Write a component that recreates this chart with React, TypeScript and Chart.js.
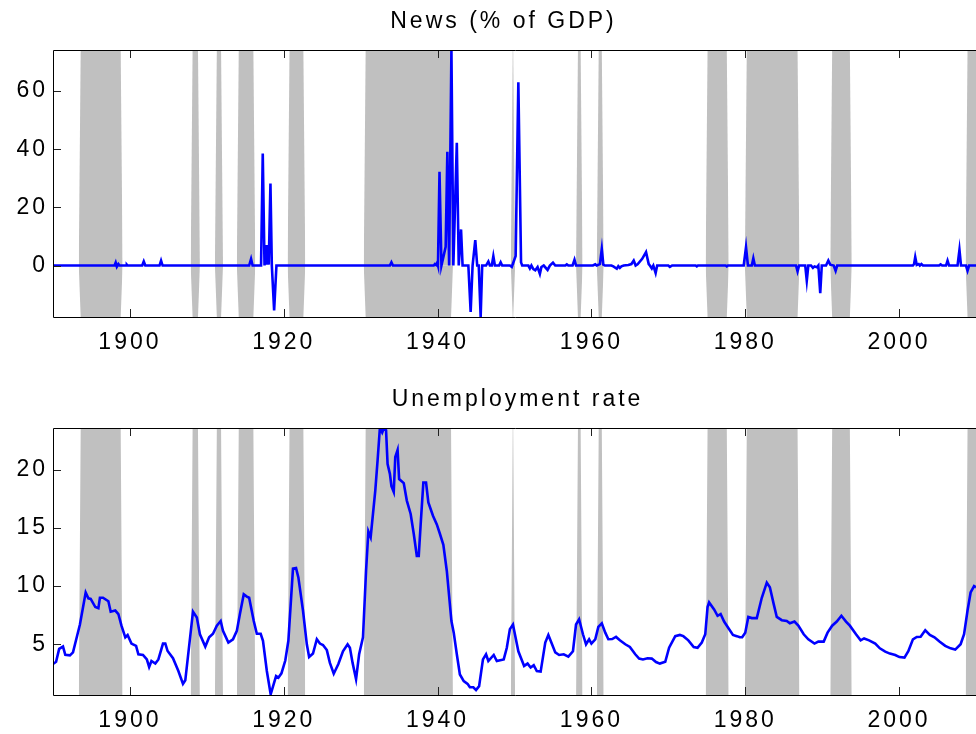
import React, { useEffect, useRef } from 'react';
import { Chart, registerables } from 'chart.js';
Chart.register(...registerables);

// ---------------- data ----------------
const xTickValues = [1900, 1920, 1940, 1960, 1980, 2000];
const newsTickValues = [0, 20, 40, 60];
const unempTickValues = [5, 10, 15, 20];

const X_MIN = 1890;
const X_MAX = 2010;
const NEWS_MIN = -17.7;
const NEWS_MAX = 74.1;
const UNEMP_MIN = 0.64;
const UNEMP_MAX = 23.59;

// recession periods (years, indicator = 1 between start and end)
const recStart = [1893.6, 1908.15, 1911.3, 1914.15, 1920.75, 1930.65, 1949.77, 1958.25, 1960.95, 1975.1, 1980.2, 1991.3, 2008.9];
const recEnd = [1898.8, 1908.85, 1911.85, 1916.05, 1922.55, 1941.75, 1949.83, 1958.6, 1961.35, 1977.6, 1986.8, 1993.6, 2010.5];
const RAMP = 0.25; // one quarter transition

const newsYears = [
  1890, 1898.0, 1898.15, 1898.3, 1898.5, 1898.65, 1899.5, 1899.6, 1899.7, 1901.6, 1901.8, 1902.0,
  1903.85, 1904.05, 1904.25, 1915.5, 1915.75, 1915.95, 1917.05, 1917.27, 1917.5, 1917.65, 1917.8,
  1917.95, 1918.05, 1918.27, 1918.45, 1918.75, 1919.05, 1933.8, 1934.0, 1934.2, 1939.5, 1939.65,
  1939.8, 1939.95, 1940.05, 1940.25, 1940.5, 1940.8, 1941.05, 1941.27, 1941.5, 1941.8, 1942.05,
  1942.5, 1942.75, 1943.05, 1943.25, 1944.0, 1944.3, 1944.55, 1944.9, 1945.15, 1945.35, 1945.6,
  1945.8, 1946.3, 1946.6, 1946.8, 1947.05, 1947.25, 1947.45, 1948.0, 1948.2, 1948.4, 1949.4,
  1949.65, 1950.15, 1950.5, 1950.85, 1951.0, 1951.8, 1952.0, 1952.2, 1952.45, 1952.7, 1953.0,
  1953.3, 1953.5, 1953.8, 1954.3, 1954.6, 1955.0, 1955.3, 1956.6, 1956.8, 1957.0, 1957.55, 1957.8,
  1958.0, 1960.2, 1960.5, 1960.7, 1961.1, 1961.35, 1961.55, 1961.75, 1962.6, 1962.85, 1963.3,
  1963.5, 1963.7, 1963.9, 1964.2, 1964.8, 1965.2, 1965.5, 1965.75, 1966.0, 1966.6, 1967.1, 1967.45,
  1967.6, 1967.85, 1968.05, 1968.35, 1968.55, 1970.0, 1970.2, 1970.5, 1973.55, 1973.7, 1973.85,
  1977.45, 1977.6, 1977.75, 1979.8, 1980.1, 1980.35, 1980.85, 1981.05, 1981.25, 1986.6, 1986.8,
  1987.0, 1987.8, 1988.0, 1988.2, 1988.55, 1988.8, 1989.0, 1989.3, 1989.5, 1989.75, 1989.95,
  1990.5, 1990.8, 1991.05, 1991.5, 1991.75, 1991.95, 2001.8, 2001.95, 2002.1, 2002.3, 2002.55,
  2002.7, 2002.9, 2003.1, 2005.2, 2005.4, 2005.6, 2006.1, 2006.3, 2006.5, 2007.6, 2007.85, 2008.05,
  2008.7, 2008.9, 2009.1, 2010,
];
const newsValues = [
  0, 0, 1.0, -0.4, 0.5, 0, 0, 0.3, 0, 0, 1.4, 0,
  0, 1.7, 0, 0, 2.3, 0, 0, 38.5, 0, 7.0, 0.3,
  7.0, 0.3, 28.2, 0, -15.4, 0, 0, 1.1, 0, 0, 0.5,
  0.2, 1.0, 0, 32.2, 0, 3.5, 6.4, 39.1, 0, 74.1, 0,
  42.2, 0, 12.4, 0, 0, -16.0, 0, 8.7, 0, 0, -17.7,
  0, 0, 1.4, 0, 0, 3.2, 0, 0, 1.1, 0, 0,
  -0.5, 3.3, 63.0, 1.1, 0, 0, -1.0, 0, -1.2, -1.6, -0.5,
  -2.9, -0.5, 0, -1.5, 0, 1.0, 0, 0, 0.4, 0, 0, 2.0,
  0, 0, 0.4, 0, 0.5, 5.7, 0.3, 0, 0, -0.3, -1.1,
  -0.2, -0.8, -0.3, 0, 0.2, 0.5, 1.7, 0, 0.4, 2.3, 4.6, 0.5,
  0, -1.0, 0, -2.6, 0, 0, -0.5, 0, 0, -0.3, 0,
  0, -0.3, 0, 0, 6.3, 0, 0, 2.5, 0, 0, -2.0,
  0, 0, -5.2, 0, 0, -0.8, -0.3, -0.6, 0, -9.5, 0,
  0, 1.7, 0.3, 0, -1.8, 0, 0, 0.5, 2.9, 0.2, 0.5,
  0, 0.5, 0, 0, 0.4, 0, 0, 1.7, 0, 0, 5.4, 0,
  0, -1.8, 0, 0,
];

const unempYears = [
  1890.0, 1890.4, 1890.8, 1891.3, 1891.6, 1892.2, 1892.6, 1893.5, 1894.25, 1894.6, 1894.9, 1895.5,
  1895.9, 1896.1, 1896.5, 1897.2, 1897.5, 1898.1, 1898.5, 1898.9, 1899.4, 1899.7, 1900.2, 1900.8,
  1901.1, 1901.7, 1902.2, 1902.5, 1902.8, 1903.3, 1903.7, 1904.3, 1904.6, 1904.9, 1905.6, 1906.3,
  1906.9, 1907.2, 1908.2, 1908.7, 1909.1, 1909.8, 1910.3, 1910.8, 1911.3, 1911.8, 1912.1, 1912.8,
  1913.4, 1913.9, 1914.3, 1914.8, 1915.2, 1915.5, 1916.1, 1916.5, 1917.0, 1917.3, 1917.8, 1918.3,
  1919.0, 1919.3, 1919.7, 1920.2, 1920.6, 1921.2, 1921.6, 1921.9, 1922.5, 1923.0, 1923.3, 1923.8,
  1924.3, 1924.7, 1925.1, 1925.6, 1926.0, 1926.5, 1927.1, 1927.7, 1928.3, 1928.6, 1928.95, 1929.4,
  1929.8, 1930.3, 1930.7, 1931.0, 1931.3, 1931.9, 1932.2, 1932.5, 1932.8, 1933.0, 1933.3, 1933.5,
  1933.8, 1934.0, 1934.3, 1934.5, 1934.8, 1935.0, 1935.6, 1936.0, 1936.5, 1936.9, 1937.3, 1937.55,
  1937.8, 1938.15, 1938.5, 1938.8, 1939.4, 1939.9, 1940.3, 1940.75, 1941.2, 1941.8, 1942.1, 1942.5,
  1942.9, 1943.4, 1943.9, 1944.2, 1944.65, 1945.0, 1945.4, 1945.9, 1946.3, 1946.6, 1947.3, 1947.7,
  1948.6, 1949.0, 1949.4, 1949.8, 1950.5, 1951.25, 1951.7, 1952.1, 1952.5, 1952.9, 1953.4, 1954.0,
  1954.4, 1954.7, 1955.3, 1955.8, 1956.4, 1957.0, 1957.6, 1958.0, 1958.4, 1958.9, 1959.3, 1959.7,
  1960.0, 1960.5, 1960.9, 1961.35, 1961.8, 1962.2, 1962.7, 1963.2, 1963.7, 1964.4, 1965.0, 1965.7,
  1966.2, 1966.7, 1967.3, 1967.85, 1968.4, 1968.9, 1969.6, 1970.1, 1970.9, 1971.5, 1971.95, 1972.6,
  1973.3, 1973.8, 1974.35, 1974.8, 1975.1, 1975.3, 1975.95, 1976.4, 1976.8, 1977.25, 1977.8, 1978.4,
  1978.9, 1979.3, 1979.6, 1980.0, 1980.4, 1980.85, 1981.5, 1982.15, 1982.8, 1983.2, 1983.7, 1984.1,
  1984.75, 1985.4, 1985.8, 1986.4, 1986.9, 1987.6, 1988.2, 1989.0, 1989.5, 1990.2, 1990.7, 1991.3,
  1991.9, 1992.5, 1993.1, 1993.6, 1994.4, 1995.0, 1995.45, 1996.1, 1996.9, 1997.5, 1998.2, 1998.8,
  1999.5, 2000.05, 2000.7, 2001.2, 2001.8, 2002.3, 2002.8, 2003.4, 2004.0, 2004.6, 2005.25, 2006.0,
  2006.7, 2007.3, 2008.0, 2008.45, 2008.9, 2009.3, 2009.75, 2010.0,
];
const unempValues = [
  3.3, 3.5, 4.6, 4.8, 4.1, 4.05, 4.3, 6.7, 9.45, 8.95, 8.9, 8.2,
  8.1, 9.0, 9.0, 8.7, 7.8, 7.9, 7.6, 6.6, 5.6, 5.8, 5.06, 4.86,
  4.14, 4.08, 3.7, 3.05, 3.56, 3.34, 3.7, 5.06, 5.06, 4.42, 3.8, 2.7,
  1.6, 1.9, 7.8, 7.3, 5.86, 4.8, 5.6, 5.9, 6.6, 7.0, 6.15, 5.15,
  5.43, 6.15, 7.6, 9.3, 9.1, 9.0, 7.0, 5.9, 5.9, 5.3, 2.7, 0.7,
  2.27, 2.13, 2.5, 3.6, 5.3, 11.5, 11.55, 10.75, 7.9, 5.0, 3.9, 4.2,
  5.43, 5.06, 4.94, 4.5, 3.4, 2.47, 3.3, 4.4, 5.0, 4.7, 3.4, 2.0,
  4.14, 5.6, 11.3, 14.7, 14.2, 18.2, 20.8, 23.6, 23.2, 23.55, 23.4, 20.5,
  19.65, 18.6, 18.1, 21.1, 21.7, 19.2, 18.85, 17.35, 16.2, 14.5, 12.6, 12.6,
  15.3, 18.9, 18.9, 17.2, 16.05, 15.3, 14.5, 13.55, 11.3, 7.0, 6.0, 4.14,
  2.4, 1.84, 1.6, 1.3, 1.3, 1.06, 1.4, 3.7, 4.14, 3.56, 4.08, 3.56,
  3.7, 4.7, 6.3, 6.7, 4.4, 3.14, 3.34, 3.0, 3.2, 2.7, 2.65, 5.15,
  5.8, 5.3, 4.3, 4.08, 4.14, 3.94, 4.4, 6.7, 7.15, 5.86, 5.0, 5.43,
  5.06, 5.43, 6.5, 6.8, 6.0, 5.43, 5.45, 5.63, 5.34, 5.0, 4.77, 4.14,
  3.77, 3.7, 3.8, 3.77, 3.47, 3.34, 3.5, 4.7, 5.7, 5.8, 5.7, 5.34,
  4.77, 4.7, 5.15, 5.86, 8.2, 8.6, 8.0, 7.45, 7.6, 6.95, 6.4, 5.8,
  5.7, 5.6, 5.6, 6.0, 7.35, 7.25, 7.25, 9.0, 10.3, 9.9, 8.45, 7.35,
  7.07, 7.0, 6.8, 6.95, 6.6, 5.86, 5.43, 5.06, 5.23, 5.23, 6.0, 6.6,
  6.95, 7.45, 6.95, 6.6, 5.86, 5.34, 5.5, 5.34, 5.06, 4.65, 4.37, 4.2,
  4.08, 3.9, 3.85, 4.4, 5.43, 5.63, 5.65, 6.2, 5.8, 5.6, 5.23, 4.86,
  4.65, 4.54, 5.0, 5.86, 7.9, 9.45, 10.0, 9.9,
];

// ---------------- style ----------------
const FONT = '"Liberation Sans", Arial, Helvetica, sans-serif';
const FONT_SIZE = 23;
const LETTER_SPACING = '3px';
const LINE_COLOR = '#0000FF';
const BAND_COLOR = '#C0C0C0';
const WIDTH = 976;
const PLOT_TOP = 50;
const PLOT_BOTTOM = 317;
const Y_AXIS_WIDTH = 53;
const TICK_LEN = 8;

function bandDatasets(levels: number[]) {
  const out: any[] = [];
  recStart.forEach((s, i) => {
    const e = recEnd[i];
    levels.forEach((lvl) => {
      out.push({
        type: 'line',
        data: [
          { x: s - RAMP, y: 0 },
          { x: s, y: lvl },
          { x: e, y: lvl },
          { x: e + RAMP, y: 0 },
        ],
        borderWidth: 0,
        borderColor: 'rgba(0,0,0,0)',
        backgroundColor: BAND_COLOR,
        pointRadius: 0,
        fill: 'origin',
        tension: 0,
        order: 5,
      });
    });
  });
  return out;
}

function makeConfig(
  title: string,
  titleShift: number,
  xs: number[],
  ys: number[],
  yMin: number,
  yMax: number,
  yTicks: number[],
  levels: number[],
  canvasHeight: number
): any {
  const decor = {
    id: 'decor',
    beforeDraw(chart: any) {
      (chart.ctx as any).letterSpacing = LETTER_SPACING;
    },
    afterDatasetsDraw(chart: any) {
      const { ctx, chartArea: a, scales } = chart;
      ctx.save();
      ctx.strokeStyle = '#222';
      ctx.lineWidth = 1;
      ctx.beginPath();
      scales.x.ticks.forEach((t: any) => {
        const px = Math.round(scales.x.getPixelForValue(t.value)) + 0.5;
        ctx.moveTo(px, a.top);
        ctx.lineTo(px, a.top + TICK_LEN);
        ctx.moveTo(px, a.bottom);
        ctx.lineTo(px, a.bottom - TICK_LEN);
      });
      scales.y.ticks.forEach((t: any) => {
        const py = Math.round(scales.y.getPixelForValue(t.value)) + 0.5;
        ctx.moveTo(a.left, py);
        ctx.lineTo(a.left + TICK_LEN, py);
      });
      ctx.stroke();
      ctx.strokeStyle = '#000';
      ctx.beginPath();
      const l = Math.round(a.left) + 0.5;
      const t = Math.round(a.top) + 0.5;
      const b = Math.round(a.bottom) + 0.5;
      ctx.moveTo(a.right + 2, t);
      ctx.lineTo(l, t);
      ctx.lineTo(l, b);
      ctx.lineTo(a.right + 2, b);
      ctx.stroke();
      ctx.restore();
    },
    afterDraw(chart: any) {
      const { ctx, chartArea: a } = chart;
      ctx.save();
      (ctx as any).letterSpacing = LETTER_SPACING;
      ctx.font = `${FONT_SIZE}px ${FONT}`;
      ctx.fillStyle = '#000';
      ctx.textAlign = 'center';
      ctx.textBaseline = 'middle';
      ctx.fillText(title, (a.left + a.right) / 2 + titleShift, 21.5);
      ctx.restore();
    },
  };

  return {
    type: 'line',
    data: {
      datasets: [
        {
          data: xs.map((x, i) => ({ x, y: ys[i] })),
          borderColor: LINE_COLOR,
          borderWidth: 2.6,
          pointRadius: 0,
          fill: false,
          tension: 0,
          order: 0,
        },
        ...bandDatasets(levels),
      ],
    },
    options: {
      responsive: false,
      animation: false,
      events: [],
      layout: { padding: { top: PLOT_TOP, left: 0, right: 0, bottom: 0 } },
      plugins: { legend: { display: false }, tooltip: { enabled: false }, title: { display: false } },
      scales: {
        x: {
          type: 'linear',
          min: X_MIN,
          max: X_MAX,
          afterBuildTicks: (s: any) => {
            s.ticks = xTickValues.map((v) => ({ value: v }));
          },
          afterFit: (s: any) => {
            s.height = canvasHeight - PLOT_BOTTOM;
          },
          grid: { display: false, drawTicks: false },
          border: { display: false },
          ticks: {
            autoSkip: false,
            maxRotation: 0,
            padding: 12,
            color: '#000',
            font: { family: FONT, size: FONT_SIZE },
            callback: (v: any) => String(v),
          },
        },
        y: {
          type: 'linear',
          min: yMin,
          max: yMax,
          afterBuildTicks: (s: any) => {
            s.ticks = yTicks.map((v) => ({ value: v }));
          },
          afterFit: (s: any) => {
            s.width = Y_AXIS_WIDTH;
          },
          grid: { display: false, drawTicks: false },
          border: { display: false },
          ticks: {
            padding: 5,
            color: '#000',
            font: { family: FONT, size: FONT_SIZE },
            callback: (v: any) => String(v),
          },
        },
      },
    },
    plugins: [decor],
  };
}

const TOP_H = 378;
const BOTTOM_H = 356;

export default function App() {
  const topRef = useRef<HTMLCanvasElement>(null);
  const botRef = useRef<HTMLCanvasElement>(null);

  useEffect(() => {
    document.body.style.margin = '0';
    document.body.style.background = '#fff';
    const c1 = new Chart(
      topRef.current as HTMLCanvasElement,
      makeConfig('News (% of GDP)', -11, newsYears, newsValues, NEWS_MIN, NEWS_MAX, newsTickValues, [NEWS_MAX, NEWS_MIN], TOP_H)
    );
    const c2 = new Chart(
      botRef.current as HTMLCanvasElement,
      makeConfig('Unemployment rate', 3, unempYears, unempValues, UNEMP_MIN, UNEMP_MAX, unempTickValues, [UNEMP_MAX], BOTTOM_H)
    );
    return () => {
      c1.destroy();
      c2.destroy();
    };
  }, []);

  return (
    <div style={{ width: WIDTH, background: '#fff' }}>
      <canvas ref={topRef} width={WIDTH} height={TOP_H} style={{ display: 'block', width: WIDTH, height: TOP_H }} />
      <canvas ref={botRef} width={WIDTH} height={BOTTOM_H} style={{ display: 'block', width: WIDTH, height: BOTTOM_H }} />
    </div>
  );
}
